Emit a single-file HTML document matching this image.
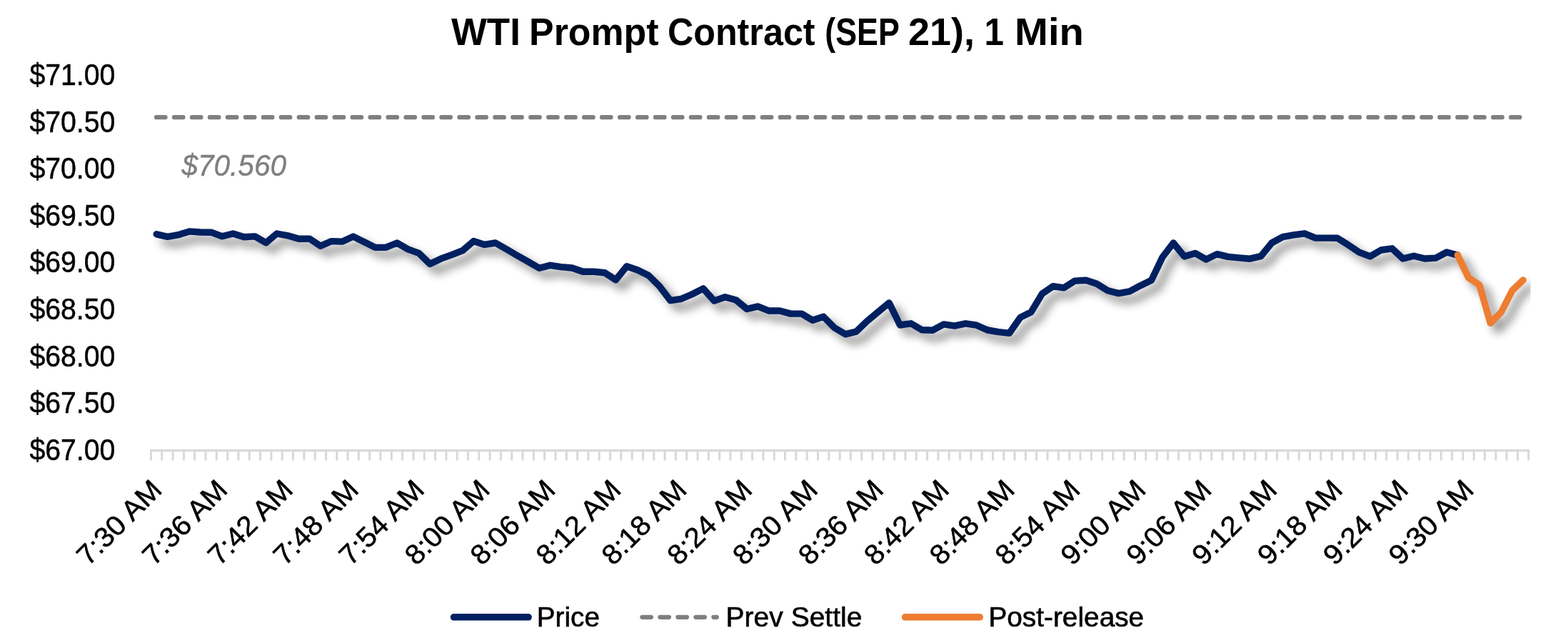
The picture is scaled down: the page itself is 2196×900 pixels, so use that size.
<!DOCTYPE html>
<html lang="en"><head><meta charset="utf-8"><title>WTI Prompt Contract (SEP 21), 1 Min</title>
<style>html,body{margin:0;padding:0;background:#fff;overflow:hidden}svg{display:block}text{font-family:'Liberation Sans', sans-serif;}</style></head>
<body>
<svg width="2196" height="900" viewBox="0 0 2196 900">
<defs>
<filter id="sh" x="-5%" y="-50%" width="110%" height="200%" color-interpolation-filters="sRGB"><feGaussianBlur in="SourceAlpha" stdDeviation="6.2"/><feOffset dx="9.5" dy="9.5"/><feComponentTransfer><feFuncA type="linear" slope="0.46"/></feComponentTransfer></filter>
<clipPath id="plot"><rect x="205" y="95" width="1938.7" height="540"/></clipPath>
</defs>
<rect width="2196" height="900" fill="#fff"/>
<text y="63.1" font-size="54.4" font-weight="bold" fill="#000"><tspan x="631.9" textLength="97.0" lengthAdjust="spacingAndGlyphs">WTI</tspan> <tspan x="741.1" textLength="181.3" lengthAdjust="spacingAndGlyphs">Prompt</tspan> <tspan x="934.9" textLength="206.7" lengthAdjust="spacingAndGlyphs">Contract</tspan> <tspan x="1155.3" textLength="103.7" lengthAdjust="spacingAndGlyphs">(SEP</tspan> <tspan x="1271.9" textLength="93.0" lengthAdjust="spacingAndGlyphs">21),</tspan> <tspan x="1378.6" textLength="27.5" lengthAdjust="spacingAndGlyphs">1</tspan> <tspan x="1421.1" textLength="96.8" lengthAdjust="spacingAndGlyphs">Min</tspan></text>
<g font-size="41.6" fill="#000" stroke="#000" stroke-width="0.5">
<text x="41.4" y="119.0" textLength="119.9" lengthAdjust="spacingAndGlyphs">$71.00</text>
<text x="41.4" y="184.6" textLength="119.9" lengthAdjust="spacingAndGlyphs">$70.50</text>
<text x="41.4" y="250.2" textLength="119.9" lengthAdjust="spacingAndGlyphs">$70.00</text>
<text x="41.4" y="315.7" textLength="119.9" lengthAdjust="spacingAndGlyphs">$69.50</text>
<text x="41.4" y="381.3" textLength="119.9" lengthAdjust="spacingAndGlyphs">$69.00</text>
<text x="41.4" y="446.9" textLength="119.9" lengthAdjust="spacingAndGlyphs">$68.50</text>
<text x="41.4" y="512.5" textLength="119.9" lengthAdjust="spacingAndGlyphs">$68.00</text>
<text x="41.4" y="578.0" textLength="119.9" lengthAdjust="spacingAndGlyphs">$67.50</text>
<text x="41.4" y="643.6" textLength="119.9" lengthAdjust="spacingAndGlyphs">$67.00</text>
</g>
<g fill="#d9d9d9">
<rect x="210" y="629" width="1932.1" height="3.1"/>
<path d="M209.95 631h3v13.5h-3zM225.26 631h3v13.5h-3zM240.57 631h3v13.5h-3zM255.89 631h3v13.5h-3zM271.20 631h3v13.5h-3zM286.51 631h3v13.5h-3zM301.82 631h3v13.5h-3zM317.13 631h3v13.5h-3zM332.45 631h3v13.5h-3zM347.76 631h3v13.5h-3zM363.07 631h3v13.5h-3zM378.38 631h3v13.5h-3zM393.69 631h3v13.5h-3zM409.01 631h3v13.5h-3zM424.32 631h3v13.5h-3zM439.63 631h3v13.5h-3zM454.94 631h3v13.5h-3zM470.25 631h3v13.5h-3zM485.57 631h3v13.5h-3zM500.88 631h3v13.5h-3zM516.19 631h3v13.5h-3zM531.50 631h3v13.5h-3zM546.81 631h3v13.5h-3zM562.13 631h3v13.5h-3zM577.44 631h3v13.5h-3zM592.75 631h3v13.5h-3zM608.06 631h3v13.5h-3zM623.37 631h3v13.5h-3zM638.69 631h3v13.5h-3zM654.00 631h3v13.5h-3zM669.31 631h3v13.5h-3zM684.62 631h3v13.5h-3zM699.93 631h3v13.5h-3zM715.25 631h3v13.5h-3zM730.56 631h3v13.5h-3zM745.87 631h3v13.5h-3zM761.18 631h3v13.5h-3zM776.49 631h3v13.5h-3zM791.81 631h3v13.5h-3zM807.12 631h3v13.5h-3zM822.43 631h3v13.5h-3zM837.74 631h3v13.5h-3zM853.05 631h3v13.5h-3zM868.37 631h3v13.5h-3zM883.68 631h3v13.5h-3zM898.99 631h3v13.5h-3zM914.30 631h3v13.5h-3zM929.61 631h3v13.5h-3zM944.93 631h3v13.5h-3zM960.24 631h3v13.5h-3zM975.55 631h3v13.5h-3zM990.86 631h3v13.5h-3zM1006.17 631h3v13.5h-3zM1021.49 631h3v13.5h-3zM1036.80 631h3v13.5h-3zM1052.11 631h3v13.5h-3zM1067.42 631h3v13.5h-3zM1082.73 631h3v13.5h-3zM1098.05 631h3v13.5h-3zM1113.36 631h3v13.5h-3zM1128.67 631h3v13.5h-3zM1143.98 631h3v13.5h-3zM1159.29 631h3v13.5h-3zM1174.61 631h3v13.5h-3zM1189.92 631h3v13.5h-3zM1205.23 631h3v13.5h-3zM1220.54 631h3v13.5h-3zM1235.85 631h3v13.5h-3zM1251.17 631h3v13.5h-3zM1266.48 631h3v13.5h-3zM1281.79 631h3v13.5h-3zM1297.10 631h3v13.5h-3zM1312.41 631h3v13.5h-3zM1327.73 631h3v13.5h-3zM1343.04 631h3v13.5h-3zM1358.35 631h3v13.5h-3zM1373.66 631h3v13.5h-3zM1388.97 631h3v13.5h-3zM1404.29 631h3v13.5h-3zM1419.60 631h3v13.5h-3zM1434.91 631h3v13.5h-3zM1450.22 631h3v13.5h-3zM1465.53 631h3v13.5h-3zM1480.85 631h3v13.5h-3zM1496.16 631h3v13.5h-3zM1511.47 631h3v13.5h-3zM1526.78 631h3v13.5h-3zM1542.09 631h3v13.5h-3zM1557.41 631h3v13.5h-3zM1572.72 631h3v13.5h-3zM1588.03 631h3v13.5h-3zM1603.34 631h3v13.5h-3zM1618.65 631h3v13.5h-3zM1633.97 631h3v13.5h-3zM1649.28 631h3v13.5h-3zM1664.59 631h3v13.5h-3zM1679.90 631h3v13.5h-3zM1695.21 631h3v13.5h-3zM1710.53 631h3v13.5h-3zM1725.84 631h3v13.5h-3zM1741.15 631h3v13.5h-3zM1756.46 631h3v13.5h-3zM1771.77 631h3v13.5h-3zM1787.09 631h3v13.5h-3zM1802.40 631h3v13.5h-3zM1817.71 631h3v13.5h-3zM1833.02 631h3v13.5h-3zM1848.33 631h3v13.5h-3zM1863.65 631h3v13.5h-3zM1878.96 631h3v13.5h-3zM1894.27 631h3v13.5h-3zM1909.58 631h3v13.5h-3zM1924.89 631h3v13.5h-3zM1940.21 631h3v13.5h-3zM1955.52 631h3v13.5h-3zM1970.83 631h3v13.5h-3zM1986.14 631h3v13.5h-3zM2001.45 631h3v13.5h-3zM2016.77 631h3v13.5h-3zM2032.08 631h3v13.5h-3zM2047.39 631h3v13.5h-3zM2062.70 631h3v13.5h-3zM2078.01 631h3v13.5h-3zM2093.33 631h3v13.5h-3zM2108.64 631h3v13.5h-3zM2123.95 631h3v13.5h-3zM2139.26 631h3v13.5h-3z"/>
</g>
<g font-size="39.2" fill="#000" stroke="#000" stroke-width="0.55" text-anchor="end">
<text transform="translate(226.6 690.1) rotate(-45)" x="3.1" y="0" textLength="148.9" lengthAdjust="spacingAndGlyphs">7:30 AM</text>
<text transform="translate(318.5 690.1) rotate(-45)" x="3.1" y="0" textLength="148.9" lengthAdjust="spacingAndGlyphs">7:36 AM</text>
<text transform="translate(410.3 690.1) rotate(-45)" x="3.1" y="0" textLength="148.9" lengthAdjust="spacingAndGlyphs">7:42 AM</text>
<text transform="translate(502.2 690.1) rotate(-45)" x="3.1" y="0" textLength="148.9" lengthAdjust="spacingAndGlyphs">7:48 AM</text>
<text transform="translate(594.1 690.1) rotate(-45)" x="3.1" y="0" textLength="148.9" lengthAdjust="spacingAndGlyphs">7:54 AM</text>
<text transform="translate(686.0 690.1) rotate(-45)" x="3.1" y="0" textLength="148.7" lengthAdjust="spacingAndGlyphs">8:00 AM</text>
<text transform="translate(777.8 690.1) rotate(-45)" x="3.1" y="0" textLength="148.7" lengthAdjust="spacingAndGlyphs">8:06 AM</text>
<text transform="translate(869.7 690.1) rotate(-45)" x="3.1" y="0" textLength="148.7" lengthAdjust="spacingAndGlyphs">8:12 AM</text>
<text transform="translate(961.6 690.1) rotate(-45)" x="3.1" y="0" textLength="148.7" lengthAdjust="spacingAndGlyphs">8:18 AM</text>
<text transform="translate(1053.4 690.1) rotate(-45)" x="3.1" y="0" textLength="148.7" lengthAdjust="spacingAndGlyphs">8:24 AM</text>
<text transform="translate(1145.3 690.1) rotate(-45)" x="3.1" y="0" textLength="148.7" lengthAdjust="spacingAndGlyphs">8:30 AM</text>
<text transform="translate(1237.2 690.1) rotate(-45)" x="3.1" y="0" textLength="148.7" lengthAdjust="spacingAndGlyphs">8:36 AM</text>
<text transform="translate(1329.1 690.1) rotate(-45)" x="3.1" y="0" textLength="148.7" lengthAdjust="spacingAndGlyphs">8:42 AM</text>
<text transform="translate(1420.9 690.1) rotate(-45)" x="3.1" y="0" textLength="148.7" lengthAdjust="spacingAndGlyphs">8:48 AM</text>
<text transform="translate(1512.8 690.1) rotate(-45)" x="3.1" y="0" textLength="148.7" lengthAdjust="spacingAndGlyphs">8:54 AM</text>
<text transform="translate(1604.7 690.1) rotate(-45)" x="3.1" y="0" textLength="148.7" lengthAdjust="spacingAndGlyphs">9:00 AM</text>
<text transform="translate(1696.6 690.1) rotate(-45)" x="3.1" y="0" textLength="148.7" lengthAdjust="spacingAndGlyphs">9:06 AM</text>
<text transform="translate(1788.4 690.1) rotate(-45)" x="3.1" y="0" textLength="148.7" lengthAdjust="spacingAndGlyphs">9:12 AM</text>
<text transform="translate(1880.3 690.1) rotate(-45)" x="3.1" y="0" textLength="148.7" lengthAdjust="spacingAndGlyphs">9:18 AM</text>
<text transform="translate(1972.2 690.1) rotate(-45)" x="3.1" y="0" textLength="148.7" lengthAdjust="spacingAndGlyphs">9:24 AM</text>
<text transform="translate(2064.0 690.1) rotate(-45)" x="3.1" y="0" textLength="148.7" lengthAdjust="spacingAndGlyphs">9:30 AM</text>
</g>
<line x1="219" y1="164.2" x2="2128.4" y2="164.2" stroke="#7f7f7f" stroke-width="6.25" stroke-linecap="round" stroke-dasharray="12.5 12.463"/>
<text x="254.4" y="246.2" font-size="43.0" font-style="italic" fill="#7f7f7f" stroke="#7f7f7f" stroke-width="0.4" textLength="146.6" lengthAdjust="spacingAndGlyphs">$70.560</text>
<g clip-path="url(#plot)"><g filter="url(#sh)" fill="none" stroke="#000" stroke-width="9.4" stroke-linecap="round" stroke-linejoin="round">
<polyline points="219.2,327.8 234.6,331.4 249.9,328.7 265.2,323.9 280.5,325.0 295.8,325.2 311.1,330.8 326.4,327.0 341.7,331.7 357.1,330.9 372.4,339.8 387.7,327.0 403.0,329.8 418.3,334.2 433.6,334.2 448.9,344.3 464.2,337.6 479.6,338.1 494.9,331.1 510.2,338.8 525.5,346.4 540.8,346.2 556.1,340.0 571.4,348.9 586.7,354.4 602.0,369.4 617.4,362.2 632.7,356.7 648.0,350.6 663.3,337.5 678.6,342.4 693.9,340.0 709.2,348.8 724.5,357.7 739.9,366.4 755.2,375.3 770.5,371.3 785.8,373.6 801.1,375.0 816.4,380.3 831.7,380.3 847.0,381.7 862.4,391.7 877.7,372.8 893.0,378.0 908.3,385.5 923.6,400.6 938.9,420.6 954.2,418.3 969.5,411.7 984.9,403.9 1000.2,421.1 1015.5,415.8 1030.8,420.0 1046.1,432.5 1061.4,428.9 1076.7,435.0 1092.0,435.0 1107.3,439.1 1122.7,439.1 1138.0,448.3 1153.3,443.3 1168.6,458.7 1183.9,467.8 1199.2,464.2 1214.5,449.4 1229.8,436.7 1245.2,423.9 1260.5,455.0 1275.8,452.8 1291.1,461.7 1306.4,462.2 1321.7,453.9 1337.0,456.1 1352.3,452.8 1367.6,455.2 1383.0,462.0 1398.3,464.7 1413.6,466.4 1428.9,444.4 1444.2,436.7 1459.5,411.1 1474.8,400.6 1490.1,402.8 1505.5,393.1 1520.8,392.2 1536.1,397.2 1551.4,406.7 1566.7,410.6 1582.0,407.8 1597.3,399.7 1612.6,392.2 1628.0,360.0 1643.3,340.0 1658.6,358.9 1673.9,354.4 1689.2,363.1 1704.5,355.6 1719.8,359.4 1735.1,360.9 1750.5,362.2 1765.8,358.7 1781.1,340.0 1796.4,331.7 1811.7,328.9 1827.0,326.8 1842.3,333.1 1857.6,333.1 1872.9,333.3 1888.3,342.8 1903.6,353.1 1918.9,358.9 1934.2,350.0 1949.5,347.8 1964.8,362.0 1980.1,358.3 1995.4,362.0 2010.8,361.1 2026.1,353.0 2041.4,357.0"/>
<polyline points="2041.4,357.0 2056.7,388.9 2072.0,398.9 2087.3,452.2 2102.6,436.7 2117.9,406.7 2133.2,392.0"/>
</g></g>
<g fill="none" stroke-width="9.4" stroke-linecap="round" stroke-linejoin="round">
<polyline points="219.2,327.8 234.6,331.4 249.9,328.7 265.2,323.9 280.5,325.0 295.8,325.2 311.1,330.8 326.4,327.0 341.7,331.7 357.1,330.9 372.4,339.8 387.7,327.0 403.0,329.8 418.3,334.2 433.6,334.2 448.9,344.3 464.2,337.6 479.6,338.1 494.9,331.1 510.2,338.8 525.5,346.4 540.8,346.2 556.1,340.0 571.4,348.9 586.7,354.4 602.0,369.4 617.4,362.2 632.7,356.7 648.0,350.6 663.3,337.5 678.6,342.4 693.9,340.0 709.2,348.8 724.5,357.7 739.9,366.4 755.2,375.3 770.5,371.3 785.8,373.6 801.1,375.0 816.4,380.3 831.7,380.3 847.0,381.7 862.4,391.7 877.7,372.8 893.0,378.0 908.3,385.5 923.6,400.6 938.9,420.6 954.2,418.3 969.5,411.7 984.9,403.9 1000.2,421.1 1015.5,415.8 1030.8,420.0 1046.1,432.5 1061.4,428.9 1076.7,435.0 1092.0,435.0 1107.3,439.1 1122.7,439.1 1138.0,448.3 1153.3,443.3 1168.6,458.7 1183.9,467.8 1199.2,464.2 1214.5,449.4 1229.8,436.7 1245.2,423.9 1260.5,455.0 1275.8,452.8 1291.1,461.7 1306.4,462.2 1321.7,453.9 1337.0,456.1 1352.3,452.8 1367.6,455.2 1383.0,462.0 1398.3,464.7 1413.6,466.4 1428.9,444.4 1444.2,436.7 1459.5,411.1 1474.8,400.6 1490.1,402.8 1505.5,393.1 1520.8,392.2 1536.1,397.2 1551.4,406.7 1566.7,410.6 1582.0,407.8 1597.3,399.7 1612.6,392.2 1628.0,360.0 1643.3,340.0 1658.6,358.9 1673.9,354.4 1689.2,363.1 1704.5,355.6 1719.8,359.4 1735.1,360.9 1750.5,362.2 1765.8,358.7 1781.1,340.0 1796.4,331.7 1811.7,328.9 1827.0,326.8 1842.3,333.1 1857.6,333.1 1872.9,333.3 1888.3,342.8 1903.6,353.1 1918.9,358.9 1934.2,350.0 1949.5,347.8 1964.8,362.0 1980.1,358.3 1995.4,362.0 2010.8,361.1 2026.1,353.0 2041.4,357.0" stroke="#002060"/>
<polyline points="2041.4,357.0 2056.7,388.9 2072.0,398.9 2087.3,452.2 2102.6,436.7 2117.9,406.7 2133.2,392.0" stroke="#ed7d31"/>
</g>
<g fill="none" stroke-linecap="round">
<line x1="635.5" y1="863.8" x2="740.1" y2="863.8" stroke="#002060" stroke-width="9.6"/>
<line x1="899.4" y1="863.8" x2="1003.8" y2="863.8" stroke="#7f7f7f" stroke-width="6.25" stroke-dasharray="12.5 12.5"/>
<line x1="1267.6" y1="863.8" x2="1372.3" y2="863.8" stroke="#ed7d31" stroke-width="9.6"/>
</g>
<g font-size="39.0" fill="#000" stroke="#000" stroke-width="0.6">
<text x="751.8" y="877.1" textLength="88.1" lengthAdjust="spacingAndGlyphs">Price</text>
<text x="1016.6" y="877.1" textLength="190.8" lengthAdjust="spacingAndGlyphs">Prev Settle</text>
<text x="1384.4" y="877.1" textLength="217.8" lengthAdjust="spacingAndGlyphs">Post-release</text>
</g>
</svg>
</body></html>
